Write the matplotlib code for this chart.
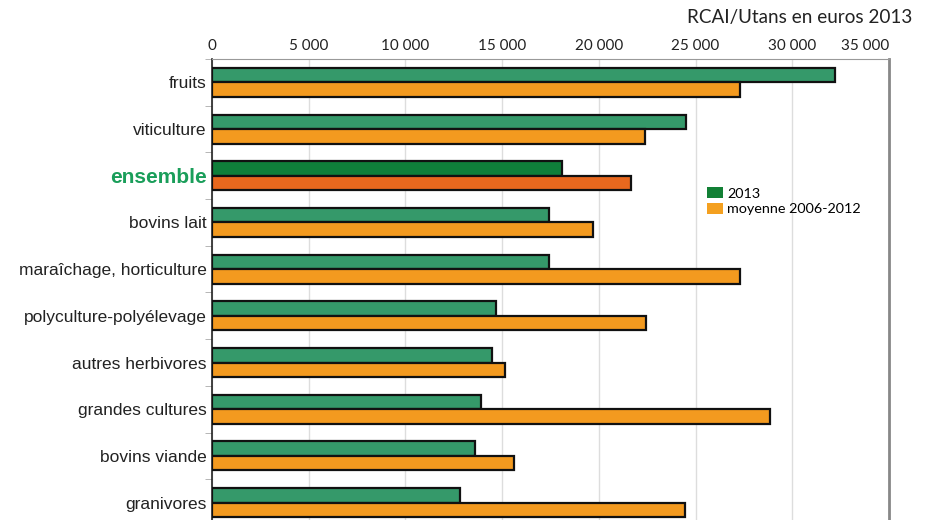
import matplotlib.pyplot as plt
import numpy as np
from matplotlib.patches import Patch

plt.rcParams['font.family'] = ['Liberation Sans', 'DejaVu Sans']

# Data (RCAI/Utans, euros 2013)
categories = ['fruits', 'viticulture', 'ensemble', 'bovins lait',
              'maraîchage, horticulture', 'polyculture-polyélevage',
              'autres herbivores', 'grandes cultures', 'bovins viande',
              'granivores']
val_2013 = [32200, 24500, 18100, 17400, 17400, 14700, 14500, 13900, 13600, 12800]
val_moy = [27300, 22400, 21650, 19700, 27300, 22450, 15150, 28850, 15600, 24450]
tick_values = [0, 5000, 10000, 15000, 20000, 25000, 30000, 35000]
tick_labels = ['0', '5 000', '10 000', '15 000', '20 000', '25 000', '30 000', '35 000']

green = '#35996a'
orange = '#f39a1f'
green_hl = '#0f7f3a'
orange_hl = '#e8681e'

fig = plt.figure(figsize=(9.35, 5.2), dpi=100)
ax = fig.add_axes((212 / 935, 1 - 526 / 520, 677 / 935, 467 / 520))

y = np.arange(len(categories))
h = 0.31
c13 = [green_hl if c == 'ensemble' else green for c in categories]
cmo = [orange_hl if c == 'ensemble' else orange for c in categories]
ax.barh(y - h / 2, val_2013, height=h, color=c13, edgecolor='#111111', linewidth=1.6, zorder=3)
ax.barh(y + h / 2, val_moy, height=h, color=cmo, edgecolor='#111111', linewidth=1.6, zorder=3)

ax.set_xlim(0, 35000)
ax.set_ylim(len(categories) - 0.5, -0.5)

# x axis on top, labels only
ax.xaxis.tick_top()
ax.set_xticks(tick_values)
ax.set_xticklabels(tick_labels, family=['Lato', 'DejaVu Sans'], fontsize=11, color='#222222')
ax.tick_params(axis='x', length=0, pad=4)
ax.get_xticklabels()[-1].set_ha('right')
ax.grid(axis='x', color='#dddddd', linewidth=1, zorder=0)

# y axis: category labels, ticks on the boundaries
ax.set_yticks(y)
ax.set_yticklabels(categories, fontsize=12.5, color='#222222')
ax.tick_params(axis='y', length=0, pad=4)
ax.set_yticks(np.arange(len(categories) + 1) - 0.5, minor=True)
ax.tick_params(axis='y', which='minor', length=5, color='#aaaaaa')
for lab in ax.get_yticklabels():
    lab.set_va('center_baseline')
    if lab.get_text() == 'ensemble':
        lab.set_color('#1a9e5a')
        lab.set_fontweight('bold')
        lab.set_fontsize(15)

ax.spines['left'].set_color('#222222')
ax.spines['left'].set_linewidth(1.2)
ax.spines['top'].set_color('#999999')
ax.spines['right'].set_color('#888888')
ax.spines['right'].set_linewidth(2)
ax.spines['bottom'].set_visible(False)

fig.text(912 / 935, 1 - 18 / 520, 'RCAI/Utans en euros 2013', ha='right', va='center',
         family=['Lato', 'DejaVu Sans'], fontsize=13.6, color='#222222')

handles = [Patch(facecolor='#128035', edgecolor='none', label='2013'),
           Patch(facecolor='#f4a020', edgecolor='none', label='moyenne 2006-2012')]
ax.legend(handles=handles, loc='upper left', bbox_to_anchor=(700 / 935, 1 - 180 / 520),
          bbox_transform=fig.transFigure, frameon=False,
          handlelength=1.1, handleheight=0.8, handletextpad=0.3, labelspacing=0.2,
          borderpad=0, prop={'family': ['Lato', 'DejaVu Sans'], 'size': 10.4})

fig.savefig('out.png', dpi=100)
